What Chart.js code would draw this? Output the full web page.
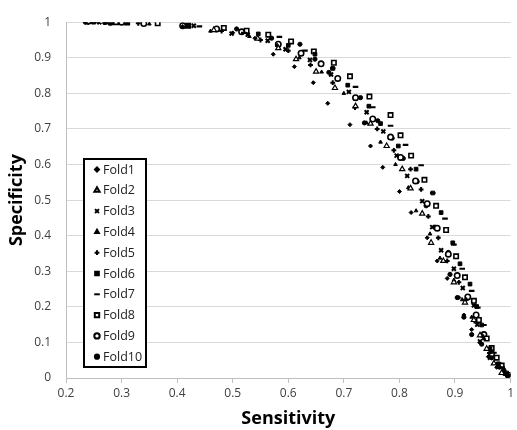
<!DOCTYPE html>
<html><head><meta charset="utf-8">
<script src="https://cdn.jsdelivr.net/npm/chart.js@4/dist/chart.umd.min.js"></script>
<style>html,body{margin:0;padding:0;background:#fff}#wrap{width:517px;height:430px}</style>
</head><body><div id="wrap"><canvas id="c" width="517" height="430"></canvas></div>
<script>
const foldNames = ['Fold1','Fold2','Fold3','Fold4','Fold5','Fold6','Fold7','Fold8','Fold9','Fold10'];
const xTicks = [0.2,0.3,0.4,0.5,0.6,0.7,0.8,0.9,1];
const yTicks = [0,0.1,0.2,0.3,0.4,0.5,0.6,0.7,0.8,0.9,1];
const fold1 = [[0.235,1],[0.41,0.988],[0.5,0.97],[0.54,0.955],[0.573,0.91],[0.611,0.875],[0.645,0.83],[0.671,0.772],[0.711,0.712],[0.748,0.652],[0.77,0.592],[0.8,0.524],[0.821,0.465],[0.85,0.394],[0.868,0.329],[0.886,0.28],[0.907,0.226],[0.916,0.177],[0.93,0.136],[0.945,0.1],[0.96,0.06],[0.975,0.03],[0.992,0.008]];
const fold2 = [[0.24,1],[0.466,0.978],[0.545,0.954],[0.582,0.927],[0.614,0.896],[0.65,0.861],[0.684,0.815],[0.721,0.764],[0.748,0.715],[0.777,0.652],[0.805,0.587],[0.82,0.533],[0.841,0.462],[0.857,0.38],[0.879,0.329],[0.898,0.269],[0.918,0.212],[0.934,0.163],[0.945,0.12],[0.957,0.082],[0.97,0.041],[0.984,0.014],[1,0]];
const fold3 = [[0.26,1],[0.27,1],[0.31,0.999],[0.43,0.99],[0.498,0.968],[0.527,0.965],[0.563,0.948],[0.595,0.924],[0.639,0.894],[0.677,0.853],[0.709,0.804],[0.741,0.747],[0.771,0.693],[0.795,0.625],[0.814,0.568],[0.841,0.497],[0.859,0.424],[0.875,0.359],[0.898,0.307],[0.914,0.253],[0.934,0.204],[0.94,0.15],[0.945,0.103],[0.963,0.057],[0.988,0.016]];
const fold4 = [[0.245,1],[0.35,0.995],[0.46,0.975],[0.53,0.96],[0.58,0.935],[0.62,0.9],[0.66,0.86],[0.7,0.8],[0.741,0.717],[0.766,0.663],[0.793,0.6],[0.816,0.535],[0.83,0.47],[0.855,0.405],[0.873,0.337],[0.898,0.275],[0.913,0.22],[0.93,0.171],[0.952,0.111],[0.97,0.041],[0.99,0.01]];
const fold5 = [[0.24,0.999],[0.33,0.997],[0.48,0.975],[0.55,0.95],[0.6,0.92],[0.64,0.88],[0.68,0.83],[0.72,0.76],[0.76,0.7],[0.79,0.64],[0.82,0.587],[0.839,0.53],[0.852,0.454],[0.87,0.394],[0.886,0.329],[0.907,0.269],[0.92,0.22],[0.935,0.16],[0.948,0.12],[0.962,0.07],[0.98,0.03],[0.996,0.005]];
const fold6 = [[0.25,1],[0.28,0.998],[0.42,0.99],[0.546,0.967],[0.6,0.935],[0.648,0.91],[0.68,0.87],[0.707,0.823],[0.745,0.764],[0.766,0.715],[0.798,0.652],[0.83,0.587],[0.86,0.52],[0.875,0.465],[0.896,0.38],[0.909,0.321],[0.927,0.264],[0.939,0.201],[0.948,0.149],[0.963,0.082],[0.978,0.04],[0.993,0.014]];
const fold7 = [[0.255,1],[0.44,0.988],[0.52,0.97],[0.584,0.959],[0.63,0.92],[0.68,0.87],[0.721,0.818],[0.752,0.761],[0.784,0.709],[0.811,0.655],[0.839,0.598],[0.86,0.52],[0.882,0.448],[0.898,0.375],[0.913,0.307],[0.93,0.245],[0.941,0.198],[0.952,0.149],[0.97,0.071],[0.985,0.03],[1,0.005]];
const fold8 = [[0.29,1],[0.31,0.999],[0.365,0.997],[0.42,0.99],[0.484,0.984],[0.525,0.976],[0.564,0.965],[0.605,0.946],[0.646,0.918],[0.682,0.886],[0.711,0.848],[0.746,0.791],[0.784,0.739],[0.802,0.682],[0.821,0.625],[0.845,0.557],[0.866,0.484],[0.884,0.416],[0.902,0.342],[0.918,0.283],[0.934,0.217],[0.943,0.163],[0.957,0.111],[0.966,0.084],[0.975,0.057],[0.984,0.035],[0.998,0.003]];
const fold9 = [[0.28,1],[0.3,1],[0.34,0.996],[0.41,0.99],[0.471,0.981],[0.516,0.973],[0.582,0.938],[0.623,0.913],[0.659,0.883],[0.689,0.842],[0.721,0.788],[0.752,0.728],[0.784,0.677],[0.802,0.62],[0.829,0.554],[0.85,0.49],[0.868,0.421],[0.888,0.348],[0.904,0.288],[0.923,0.228],[0.938,0.177],[0.952,0.122],[0.966,0.068],[0.98,0.035],[0.996,0.008]];
const fold10 = [[0.235,1],[0.27,0.999],[0.415,0.99],[0.507,0.981],[0.57,0.955],[0.621,0.938],[0.648,0.896],[0.673,0.859],[0.73,0.788],[0.737,0.717],[0.761,0.723],[0.787,0.674],[0.807,0.617],[0.832,0.552],[0.848,0.484],[0.864,0.424],[0.888,0.353],[0.891,0.291],[0.904,0.226],[0.916,0.171],[0.93,0.122],[0.948,0.095],[0.966,0.057],[0.988,0.022]];
const foldData = [fold1,fold2,fold3,fold4,fold5,fold6,fold7,fold8,fold9,fold10];

const styles = [
  {pointStyle:'rectRot', radius:2, bg:'#000', bw:1},
  {pointStyle:'triangle', radius:3, bg:'#fff', bw:1.2},
  {pointStyle:'crossRot', radius:2.8, bg:'#000', bw:2},
  {pointStyle:'triangle', radius:2.1, bg:'#000', bw:1},
  {pointStyle:'cross', radius:2.4, bg:'#000', bw:2},
  {pointStyle:'rect', radius:2.6, bg:'#000', bw:1},
  {pointStyle:'line', radius:2.8, bg:'#000', bw:2.2},
  {pointStyle:'rect', radius:3.1, bg:'#fff', bw:1.6},
  {pointStyle:'circle', radius:2.7, bg:'#fff', bw:1.6},
  {pointStyle:'circle', radius:2.1, bg:'#000', bw:1}
];

const datasets = foldNames.map((n,i)=>({
  label:n,
  data: foldData[i].map(p=>({x:p[0], y:p[1]})),
  pointStyle: styles[i].pointStyle,
  pointRadius: styles[i].radius,
  pointBackgroundColor: styles[i].bg,
  pointBorderColor:'#000',
  pointBorderWidth: styles[i].bw,
  showLine:false
}));

const legendPlugin = {
  id:'inLegend',
  afterDraw(chart){
    const ctx = chart.ctx;
    ctx.save();
    ctx.fillStyle='#fff';
    ctx.fillRect(84,159,62,208);
    ctx.lineWidth=2; ctx.strokeStyle='#000';
    ctx.strokeRect(84,159,62,208);
    ctx.font='12.5px "Open Sans", sans-serif';
    ctx.textBaseline='middle'; ctx.textAlign='left';
    foldNames.forEach((n,i)=>{
      const y = 169.5 + i*20.8;
      const s = styles[i];
      ctx.fillStyle=s.bg; ctx.strokeStyle='#000';
      Chart.helpers.drawPoint(ctx,{pointStyle:s.pointStyle, radius:s.radius, borderWidth:s.bw, rotation:0}, 97, y);
      ctx.fillStyle='#222';
      ctx.fillText(n, 103, y+0.5);
    });
    ctx.restore();
  }
};

const fmt = v => String(Number(v.toFixed(1)));

new Chart(document.getElementById('c'), {
  type:'scatter',
  data:{datasets},
  options:{
    responsive:false, animation:false,
    layout:{padding:{left:0,right:3,top:10,bottom:0}},
    plugins:{legend:{display:false}, tooltip:{enabled:false}},
    scales:{
      x:{type:'linear', min:xTicks[0], max:xTicks[xTicks.length-1],
        afterBuildTicks(s){ s.ticks = xTicks.map(v=>({value:v})); },
        afterFit(s){ s.height = 52; },
        ticks:{callback:fmt, maxRotation:0, color:'#404040', font:{family:'"Open Sans", sans-serif', size:12}, padding:3},
        grid:{drawOnChartArea:false, drawTicks:true, tickLength:5, color:'#bfbfbf'},
        border:{color:'#bfbfbf', width:1},
        title:{display:true, text:'Sensitivity', color:'#000', font:{family:'"Open Sans", sans-serif', size:18, weight:'bold'}, padding:{top:0,bottom:0}}
      },
      y:{type:'linear', min:0, max:1,
        afterBuildTicks(s){ s.ticks = yTicks.map(v=>({value:v})); },
        afterFit(s){ s.width = 66; },
        ticks:{callback:fmt, color:'#404040', font:{family:'"Open Sans", sans-serif', size:12}, padding:15},
        grid:{color:'#d9d9d9', drawTicks:false},
        border:{color:'#bfbfbf', width:1},
        title:{display:true, text:'Specificity', color:'#000', font:{family:'"Open Sans", sans-serif', size:18, weight:'bold'}, padding:{top:6,bottom:0}}
      }
    }
  },
  plugins:[legendPlugin]
});
</script></body></html>
